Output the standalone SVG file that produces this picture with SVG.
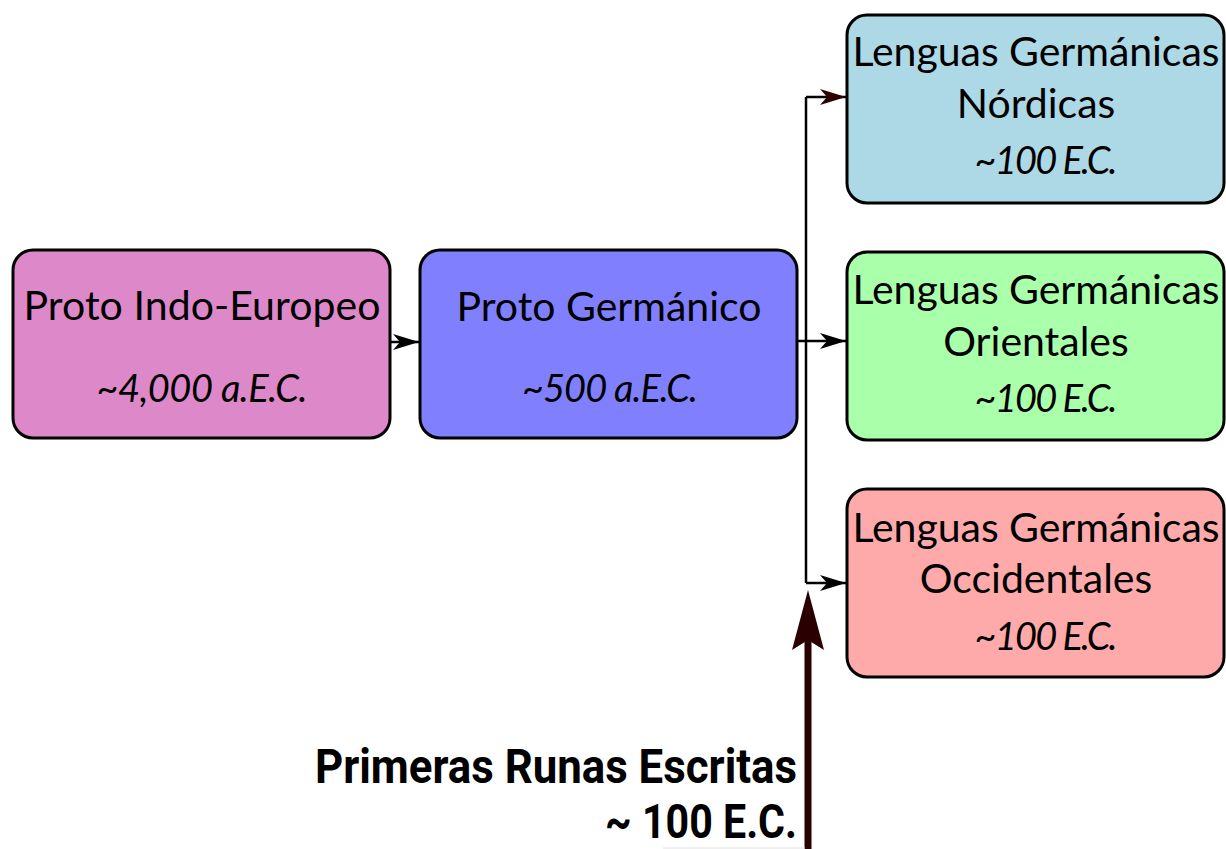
<svg xmlns="http://www.w3.org/2000/svg" width="1226" height="849" viewBox="0 0 1226 849">
<defs>
<style>
.box{stroke:#000;stroke-width:3}
.t{font-family:Lato,"Open Sans",sans-serif;font-size:41px;fill:#000;text-anchor:middle}
.i{font-family:Lato,"Open Sans",sans-serif;font-size:38px;font-style:italic;fill:#000;text-anchor:middle}
.c{fill:none;stroke:#000;stroke-width:2.5}
.big{font-family:Roboto,"Liberation Sans",sans-serif;font-weight:bold;font-size:48px;fill:#000;text-anchor:end}
</style>
<marker id="ah" viewBox="0 0 26 16" refX="26" refY="8" markerWidth="26" markerHeight="16" markerUnits="userSpaceOnUse" orient="auto">
<path d="M0,0 L26,8 L0,16 L7,8 Z" fill="#000"/>
</marker>
<marker id="ahr" viewBox="0 0 26 16" refX="26" refY="8" markerWidth="26" markerHeight="16" markerUnits="userSpaceOnUse" orient="auto">
<path d="M0,0 L26,8 L0,16 L7,8 Z" fill="#2b0000"/>
</marker>
</defs>
<rect width="1226" height="849" fill="#fff"/>
<g id="connectors">
<path class="c" d="M390,342 H419" marker-end="url(#ah)"/>
<path class="c" d="M806,97 V583"/>
<path class="c" d="M795,341 H846" marker-end="url(#ah)"/>
<path class="c" d="M806,97 H846" marker-end="url(#ahr)"/>
<path class="c" d="M806,583 H846" marker-end="url(#ah)"/>
</g>
<g id="proto-indoeuropeo">
<rect class="box" x="13" y="250" width="377" height="188" rx="20" fill="#dd88c8"/>
<text class="t" x="202" y="320" textLength="357">Proto Indo-Europeo</text>
<text class="i" x="202" y="402" textLength="211">~4,000 a.E.C.</text>
</g>
<g id="proto-germanico">
<rect class="box" x="420" y="250" width="377" height="188" rx="20" fill="#8080ff"/>
<text class="t" x="609" y="321" textLength="305">Proto Germánico</text>
<text class="i" x="610" y="402" textLength="176">~500 a.E.C.</text>
</g>
<g id="nordicas">
<rect class="box" x="847" y="15" width="377" height="188" rx="20" fill="#add8e6"/>
<text class="t" x="1036" y="66" textLength="367">Lenguas Germánicas</text>
<text class="t" x="1036" y="118">Nórdicas</text>
<text class="i" x="1046" y="174" textLength="143">~100 E.C.</text>
</g>
<g id="orientales">
<rect class="box" x="847" y="252" width="377" height="188" rx="20" fill="#aaffaa"/>
<text class="t" x="1036" y="304" textLength="367">Lenguas Germánicas</text>
<text class="t" x="1036" y="356">Orientales</text>
<text class="i" x="1046" y="412" textLength="143">~100 E.C.</text>
</g>
<g id="occidentales">
<rect class="box" x="847" y="489" width="377" height="188" rx="20" fill="#ffaaaa"/>
<text class="t" x="1036" y="542" textLength="367">Lenguas Germánicas</text>
<text class="t" x="1036" y="593">Occidentales</text>
<text class="i" x="1046" y="650" textLength="143">~100 E.C.</text>
</g>
<g id="runas">
<line x1="808" y1="849" x2="808" y2="630" stroke="#2b0000" stroke-width="7"/>
<path d="M808,590 L824,650 L808,640 L792,650 Z" fill="#2b0000"/>
<text class="big" x="797" y="783" textLength="482" lengthAdjust="spacingAndGlyphs">Primeras Runas Escritas</text>
<text class="big" x="797" y="838" textLength="192" lengthAdjust="spacingAndGlyphs">~ 100 E.C.</text>
<line x1="663" y1="848" x2="805" y2="848" stroke="#e0e0e0" stroke-width="1"/>
</g>
</svg>
